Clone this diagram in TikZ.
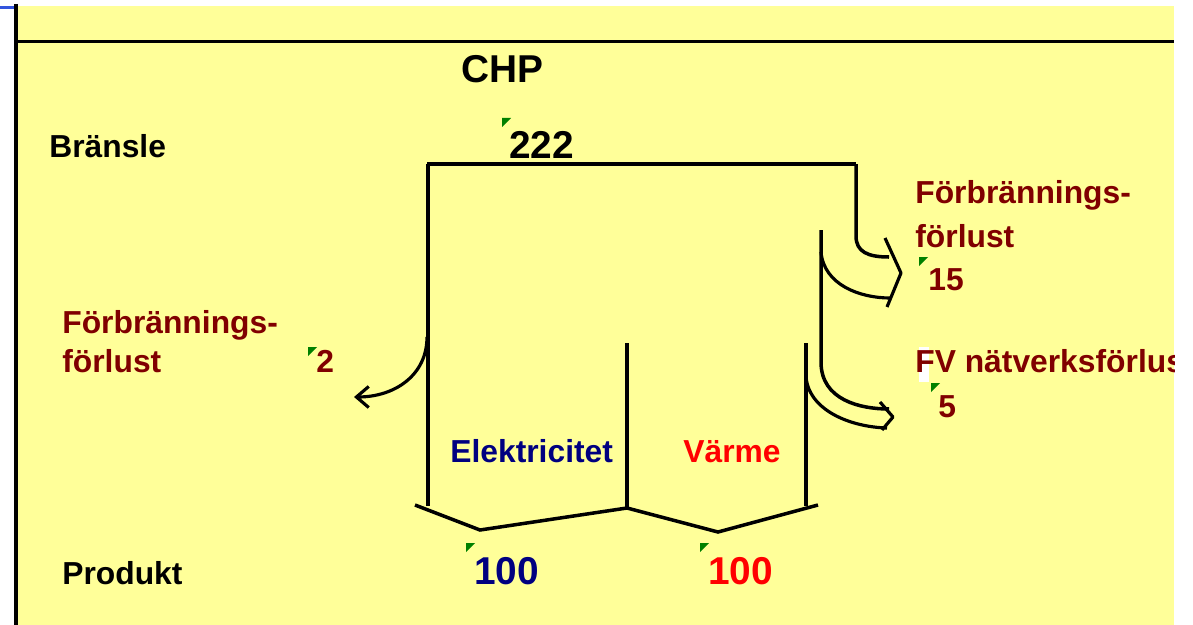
\documentclass[tikz,border=0pt]{standalone}
\usepackage{fontspec}
\setmainfont{Liberation Sans}
\usetikzlibrary{arrows.meta}

\definecolor{sheet}{HTML}{FFFF99}
\definecolor{lossred}{HTML}{800000}
\definecolor{elblue}{HTML}{000080}
\definecolor{heatred}{HTML}{FF0000}
\definecolor{tickgreen}{HTML}{008000}
\definecolor{rimblue}{HTML}{3355DD}

\tikzset{
    txt/.style={anchor=base west, inner sep=0pt, font=\fontsize{18.1}{20}\selectfont\bfseries},
    bigtxt/.style={anchor=base west, inner sep=0pt, font=\fontsize{22.1}{24}\selectfont\bfseries},
    flow/.style={line width=2pt},
    lossline/.style={line width=1.8pt, line join=round},
}
% small green corner mark in front of a number
\newcommand{\cellmark}[1]{\fill[tickgreen] (#1) -- ++(9,0) -- ++(-9,9) -- cycle;}

\begin{document}
\begin{tikzpicture}[x=0.02cm,y=-0.02cm]
    \useasboundingbox (0,0) rectangle (1193,625);

    % Draw the sheet and its frame
    \fill[sheet] (15,6) rectangle (1174,625);
    \draw[rimblue, line width=1.5pt] (0,7.5) -- (15,7.5);
    \draw[line width=2pt] (16,4) -- (16,625);
    \draw[line width=2pt] (15,41.5) -- (1174,41.5);

    % Fuel bar and the two outer walls
    \draw[line width=2.6pt] (427,164) -- (856,164);
    \draw[flow] (428,164) -- (428,506);
    \draw[flow] (856,164) -- (856,236)
        .. controls (856,252) and (868,257) .. (889,257);

    % Loss 15 to the right
    \draw[flow] (821,230) -- (821,362)
        .. controls (821,400) and (860,409) .. (889,409);
    \draw[lossline] (821,252) .. controls (824,285) and (860,298) .. (890,298);
    \draw[lossline] (885,238) -- (901,273) -- (887,307);

    % Loss 5 to the right
    \draw[flow] (806,343) -- (806,506);
    \draw[lossline] (806,376) .. controls (808,410) and (850,427) .. (887,428);
    \draw[lossline] (880,402) -- (893,417) -- (882,430);

    % Loss 2 to the left
    \draw[lossline, -{Straight Barb[length=7pt, width=12pt, line width=1.8pt]}]
        (427,337) .. controls (427,375) and (395,397) .. (354,397);

    % Split between the two products
    \draw[flow] (627,343) -- (627,508);
    \draw[flow] (415,505) -- (480,530) -- (627,508) -- (718,532) -- (818,505);

    % Labels
    \node[bigtxt] (chp) at (461,83) {CHP};
    \node[txt] (fuel) at (49,157) {Bränsle};
    \node[bigtxt] (fuelval) at (509,158) {222};
    \cellmark{502,118}

    \node[txt, text=lossred] (lossa1) at (915,203) {Förbrännings-};
    \node[txt, text=lossred] (lossa2) at (915,247) {förlust};
    \node[txt, text=lossred] (lossaval) at (928,290) {15};
    \cellmark{919,257}

    \fill[white] (919,347) rectangle (929,382);
    \begin{scope}
        \clip (15,6) rectangle (1174,625);
        \node[txt, text=lossred] (lossb) at (915,372) {FV nätverksförlust};
    \end{scope}
    \node[txt, text=lossred] (lossbval) at (938,417) {5};
    \cellmark{931,383}

    \node[txt, text=lossred] (lossc1) at (62,333) {Förbrännings-};
    \node[txt, text=lossred] (lossc2) at (62,372) {förlust};
    \node[txt, text=lossred] (losscval) at (316,372) {2};
    \cellmark{308,347}

    \node[txt, text=elblue] (el) at (450,462) {Elektricitet};
    \node[txt, text=heatred] (heat) at (683,462) {Värme};

    \node[txt] (prod) at (62,584) {Produkt};
    \node[bigtxt, text=elblue] (elval) at (474,584) {100};
    \cellmark{466,543}
    \node[bigtxt, text=heatred] (heatval) at (708,584) {100};
    \cellmark{700,543}
\end{tikzpicture}
\end{document}
